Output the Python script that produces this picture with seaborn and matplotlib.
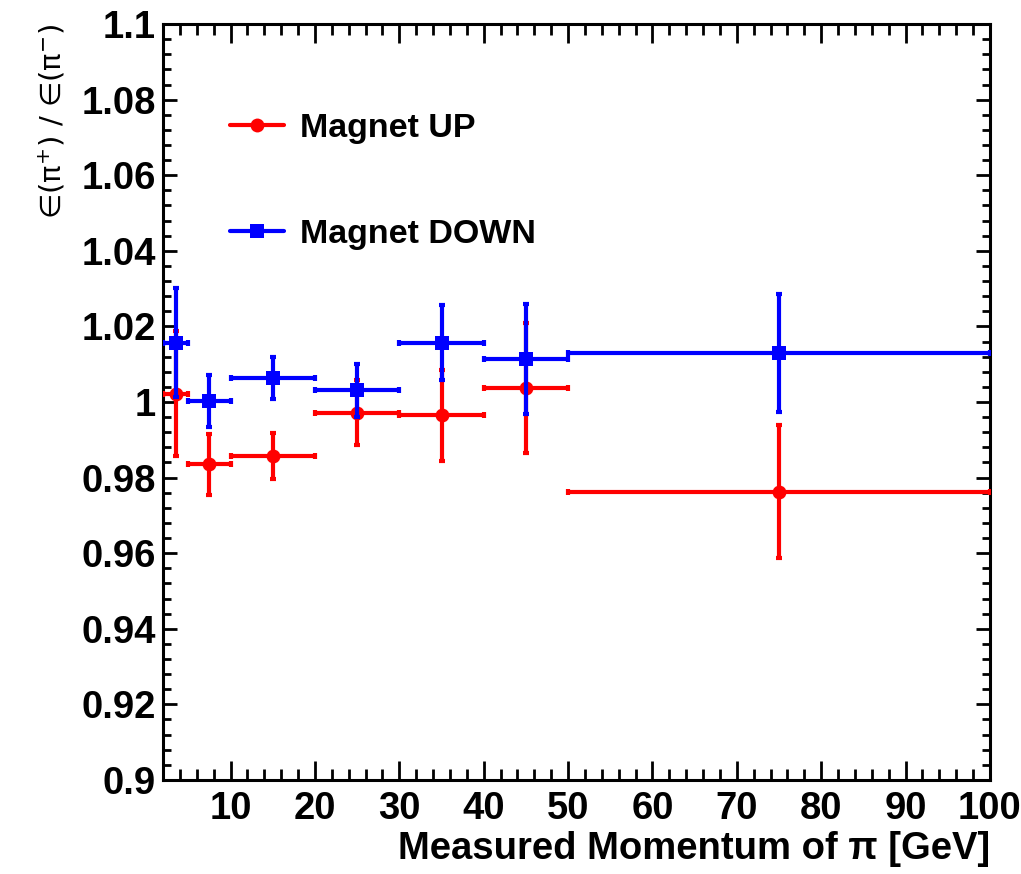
import numpy as np
import pandas as pd
import matplotlib
matplotlib.use("Agg")
import matplotlib.pyplot as plt
from matplotlib.lines import Line2D
from matplotlib.ticker import MultipleLocator
import seaborn as sns

# Momentum bins [GeV]: centres and half-widths
p_center = [3.5, 7.5, 15, 25, 35, 45, 75]
p_halfwidth = [1.5, 2.5, 5, 5, 5, 5, 25]

# Efficiency ratio eps(pi+)/eps(pi-) per bin
ratio_up = [1.0022, 0.9835, 0.9857, 0.9972, 0.9965, 1.0038, 0.9762]
err_up = [0.0165, 0.0080, 0.0062, 0.0085, 0.0120, 0.0172, 0.0176]
ratio_down = [1.0157, 1.0003, 1.0064, 1.0031, 1.0157, 1.0113, 1.0130]
err_down = [0.0144, 0.0068, 0.0055, 0.0070, 0.0100, 0.0146, 0.0157]

x_ticks = [10, 20, 30, 40, 50, 60, 70, 80, 90, 100]
x_ticklabels = ["10", "20", "30", "40", "50", "60", "70", "80", "90", "100"]
y_ticks = [0.9, 0.92, 0.94, 0.96, 0.98, 1.0, 1.02, 1.04, 1.06, 1.08, 1.1]
y_ticklabels = ["0.9", "0.92", "0.94", "0.96", "0.98", "1", "1.02",
                "1.04", "1.06", "1.08", "1.1"]

series_names = ["Magnet UP", "Magnet DOWN"]
series_colors = {"Magnet UP": "#ff0000", "Magnet DOWN": "#0000ff"}
series_markers = {"Magnet UP": "o", "Magnet DOWN": "s"}

df = pd.concat([
    pd.DataFrame({"p": p_center, "dp": p_halfwidth, "ratio": ratio_up,
                  "err": err_up, "polarity": "Magnet UP"}),
    pd.DataFrame({"p": p_center, "dp": p_halfwidth, "ratio": ratio_down,
                  "err": err_down, "polarity": "Magnet DOWN"}),
], ignore_index=True)

sns.set_theme(style="ticks")
plt.rcParams["font.family"] = ["Liberation Sans", "DejaVu Sans"]
plt.rcParams["mathtext.fontset"] = "dejavusans"
plt.rcParams["text.color"] = "black"
plt.rcParams["axes.labelcolor"] = "black"

fig = plt.figure(figsize=(10.21, 8.74), dpi=100)
ax = fig.add_axes([0.1597, 0.1076, 0.8099, 0.8649])

z = 3
for name in series_names:
    sub = df[df["polarity"] == name]
    col = series_colors[name]
    ax.errorbar(sub["p"], sub["ratio"], xerr=sub["dp"], yerr=sub["err"],
                fmt="none", ecolor=col, elinewidth=3, capsize=2,
                capthick=3, zorder=z)
    sns.scatterplot(data=sub, x="p", y="ratio", ax=ax, color=col,
                    marker=series_markers[name],
                    s=100 if name == "Magnet UP" else 110,
                    linewidth=0, legend=False, zorder=z + 1)
    z += 2

ax.set_xlim(2, 100)
ax.set_ylim(0.9, 1.1)

ax.xaxis.set_minor_locator(MultipleLocator(2))
ax.yaxis.set_minor_locator(MultipleLocator(0.004))
ax.set_xticks(x_ticks)
ax.set_xticklabels(x_ticklabels)
ax.set_yticks(y_ticks)
ax.set_yticklabels(y_ticklabels)

for side in ["left", "right", "top", "bottom"]:
    ax.spines[side].set_visible(True)
    ax.spines[side].set_linewidth(2.2)
    ax.spines[side].set_color("black")

ax.tick_params(axis="both", which="both", direction="in", top=True,
               right=True, width=2, color="black", labelcolor="black")
ax.tick_params(axis="x", which="major", length=14, pad=8)
ax.tick_params(axis="x", which="minor", length=8)
ax.tick_params(axis="y", which="major", length=10, pad=5)
ax.tick_params(axis="y", which="minor", length=5.5)
for lab in ax.get_xticklabels() + ax.get_yticklabels():
    lab.set_fontsize(27.5)
    lab.set_fontweight("bold")

ax.set_xlabel("Measured Momentum of π [GeV]", fontsize=27.5,
              fontweight="bold", loc="right", labelpad=3)
ax.set_ylabel("∈(π$^{+}$) / ∈(π$^{-}$)", fontsize=21,
              family=["DejaVu Sans"], loc="top", labelpad=10)

handles = [Line2D([], [], color=series_colors[n], lw=3,
                  marker=series_markers[n], markersize=10,
                  markeredgewidth=0) for n in series_names]
ax.legend(handles, series_names, loc="upper left",
          bbox_to_anchor=(0.081, 0.882), frameon=False, borderpad=0,
          borderaxespad=0, handlelength=1.6, handletextpad=0.45,
          labelspacing=2.2, prop={"size": 24.5, "weight": "bold"})

ax.set_facecolor("white")
fig.patch.set_facecolor("white")
fig.savefig("out.png", dpi=100)
